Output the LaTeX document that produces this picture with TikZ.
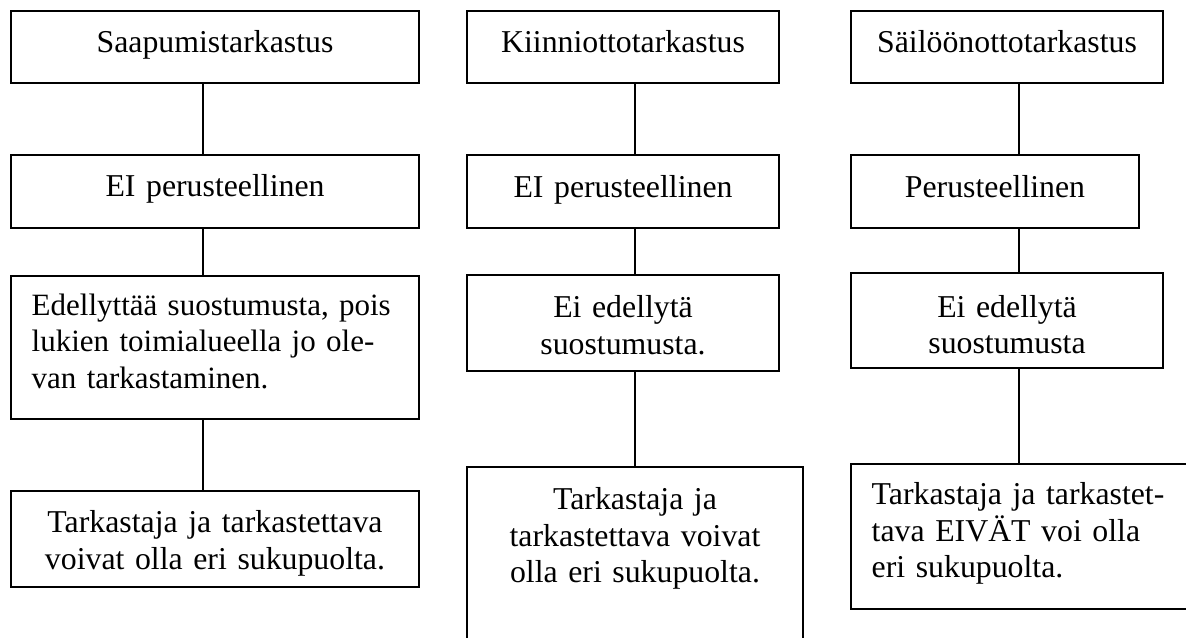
\documentclass[tikz,border=0pt]{standalone}
\usepackage{fontspec}
\setmainfont{Liberation Serif}
\begin{document}
\begin{tikzpicture}[x=0.5pt,y=-0.5pt,
  box/.style={draw, rectangle, inner sep=0pt, line width=0.6pt,
    font=\fontsize{15.9}{18.35}\selectfont, text height=12pt},
  conn/.style={line width=0.6pt}]
\useasboundingbox (0,0) rectangle (1186,637);
\clip (0,0) rectangle (1186,637);
% column 1
\node[box, minimum width=204pt, minimum height=36pt, text width=204pt, align=center, text depth=6.3pt] (s1) at (215,47) {Saapumistarkastus};
\node[box, minimum width=204pt, minimum height=36.5pt, text width=204pt, align=center, text depth=7.5pt] (s2) at (215,191.5) {EI perusteellinen};
\node[box, minimum width=204pt, minimum height=71.5pt, text width=183.3pt, align=left, text depth=44.5pt, font=\fontsize{15.5}{18.35}\selectfont] (s3) at (215,347.5) {\mbox{Edellyttää suostumusta, pois}\\\mbox{lukien toimialueella jo ole-}\\\mbox{van tarkastaminen.}};
\node[box, minimum width=204pt, minimum height=48pt, text width=204pt, align=center, text depth=18.3pt] (s4) at (215,539) {Tarkastaja ja tarkastettava\\voivat olla eri sukupuolta.};
% column 2
\node[box, minimum width=156pt, minimum height=36pt, text width=156pt, align=center, text depth=6.3pt] (k1) at (623,47) {Kiinniottotarkastus};
\node[box, minimum width=156pt, minimum height=36.5pt, text width=156pt, align=center, text depth=6.5pt] (k2) at (623,191.5) {EI perusteellinen};
\node[box, minimum width=156pt, minimum height=48pt, text width=156pt, align=center, text depth=17.3pt] (k3) at (623,323) {Ei edellytä\\suostumusta.};
\node[box, minimum width=168pt, minimum height=120pt, text width=168pt, align=center, text depth=89.7pt] (k4) at (635,587) {Tarkastaja ja\\tarkastettava voivat\\olla eri sukupuolta.};
% column 3
\node[box, minimum width=156pt, minimum height=36pt, text width=156pt, align=center, text depth=6.3pt] (c1) at (1007,47) {Säilöönottotarkastus};
\node[box, minimum width=144pt, minimum height=36.5pt, text width=144pt, align=center, text depth=5.8pt] (c2) at (995,191.5) {Perusteellinen};
\node[box, minimum width=156pt, minimum height=47.5pt, text width=156pt, align=center, text depth=15.5pt] (c3) at (1007,320.5) {Ei edellytä\\suostumusta};
\node[box, minimum width=174.5pt, minimum height=72.5pt, text width=153.8pt, align=left, text depth=44.2pt] (c4) at (1025.5,536.5) {\mbox{Tarkastaja ja tarkastet-}\\\mbox{tava EIVÄT voi olla}\\\mbox{eri sukupuolta.}};
% connectors
\draw[conn] ([xshift=-6pt]s1.south) -- ([xshift=-6pt]s2.north);
\draw[conn] ([xshift=-6pt]s2.south) -- ([xshift=-6pt]s3.north);
\draw[conn] ([xshift=-6pt]s3.south) -- ([xshift=-6pt]s4.north);
\draw[conn] (k1.south -| k4.north) -- (k2.north -| k4.north);
\draw[conn] (k2.south -| k4.north) -- (k3.north -| k4.north);
\draw[conn] (k3.south -| k4.north) -- (k4.north);
\draw[conn] ([xshift=6pt]c1.south) -- ([xshift=12pt]c2.north);
\draw[conn] ([xshift=12pt]c2.south) -- ([xshift=6pt]c3.north);
\draw[conn] ([xshift=6pt]c3.south) -- ([xshift=6pt]c3.south |- c4.north);
\end{tikzpicture}
\end{document}
